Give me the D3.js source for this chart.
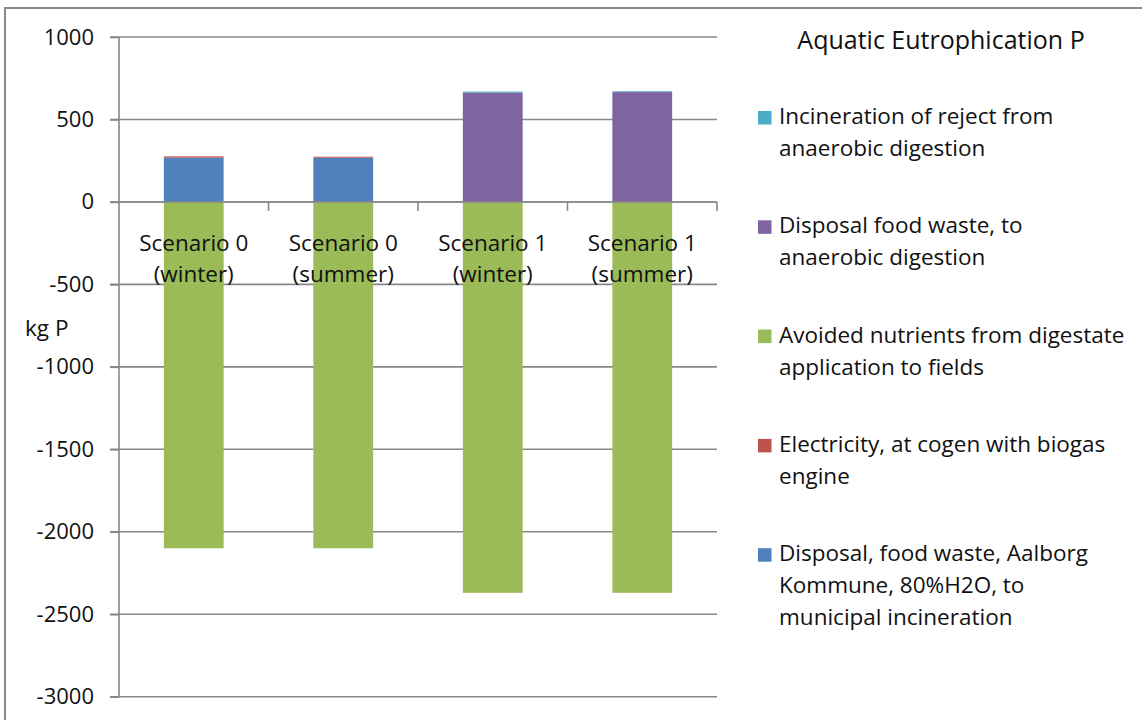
<!DOCTYPE html>
<html>
<head>
<meta charset="utf-8">
<script src="https://cdn.jsdelivr.net/npm/d3@7"></script>
<style>
  html, body { margin: 0; padding: 0; background: #fff; }
  svg { display: block; }
  text { font-family: "Open Sans", "Noto Sans", sans-serif; fill: #111; }
</style>
</head>
<body>
<svg id="chart" width="1142" height="720"></svg>
<script>
// Scenario categories (two text lines each)
const categories = ["Scenario 0 (winter)", "Scenario 0 (summer)", "Scenario 1 (winter)", "Scenario 1 (summer)"];
const categoryLines = [["Scenario 0", "(winter)"], ["Scenario 0", "(summer)"], ["Scenario 1", "(winter)"], ["Scenario 1", "(summer)"]];

// Contributions per process, kg P
const seriesNames = [
  "Disposal, food waste, Aalborg Kommune, 80%H2O, to municipal incineration",
  "Electricity, at cogen with biogas engine",
  "Avoided nutrients from digestate application to fields",
  "Disposal food waste, to anaerobic digestion",
  "Incineration of reject from anaerobic digestion"
];
const incinerationMunicipal = [268, 268, 0, 0];
const electricityCogen     = [8, 6, 0, 0];
const avoidedNutrients     = [-2100, -2100, -2370, -2370];
const anaerobicDigestion   = [0, 0, 663, 666];
const rejectIncineration   = [0, 0, 6, 5];

const seriesColors = ["#4F81BD", "#C0504D", "#9BBB59", "#8064A2", "#4BACC6"];

// Legend text, top to bottom, already broken into lines
const legendOrder = [4, 3, 2, 1, 0];
const legendLines = [
  ["Incineration of reject from", "anaerobic digestion"],
  ["Disposal food waste, to", "anaerobic digestion"],
  ["Avoided nutrients from digestate", "application to fields"],
  ["Electricity, at cogen with biogas", "engine"],
  ["Disposal, food waste, Aalborg", "Kommune, 80%H2O, to", "municipal incineration"]
];

const yTicks = [1000, 500, 0, -500, -1000, -1500, -2000, -2500, -3000];

const chartTitle = "Aquatic Eutrophication P";
const yTitle = "kg P";

// ---- layout ----
const svg = d3.select("#chart");
const plot = { left: 119, right: 717, top: 37, bottom: 696.7 };
const axisColor = "#888888";
const fontSize = 22.5;

// Outer frame (runs past the right and bottom edges)
svg.append("rect")
  .attr("x", 5).attr("y", 8)
  .attr("width", 1160).attr("height", 740)
  .attr("fill", "none")
  .attr("stroke", "#8a8a8a")
  .attr("stroke-width", 2);

const x = d3.scaleBand()
  .domain(categories)
  .range([plot.left, plot.right])
  .paddingInner(0.6)
  .paddingOuter(0.3);

const y = d3.scaleLinear()
  .domain([-3000, 1000])
  .range([plot.bottom, plot.top]);

// Gridlines
svg.append("g")
  .selectAll("line")
  .data(yTicks)
  .join("line")
  .attr("x1", plot.left - 9)
  .attr("x2", plot.right)
  .attr("y1", d => y(d))
  .attr("y2", d => y(d))
  .attr("stroke", axisColor)
  .attr("stroke-width", 1.6);

// Stacked bars
const rows = categories.map((c, i) => ({
  cat: c,
  s0: incinerationMunicipal[i],
  s1: electricityCogen[i],
  s2: avoidedNutrients[i],
  s3: anaerobicDigestion[i],
  s4: rejectIncineration[i]
}));
const keys = ["s0", "s1", "s2", "s3", "s4"];
const stacked = d3.stack()
  .keys(keys)
  .offset(d3.stackOffsetDiverging)(rows);

svg.append("g")
  .selectAll("g")
  .data(stacked)
  .join("g")
  .attr("fill", (d, i) => seriesColors[i])
  .selectAll("rect")
  .data(d => d)
  .join("rect")
  .attr("x", d => x(d.data.cat))
  .attr("width", x.bandwidth())
  .attr("y", d => y(Math.max(d[0], d[1])))
  .attr("height", d => Math.abs(y(d[0]) - y(d[1])));

// Value axis
const yAxis = svg.append("g")
  .attr("transform", `translate(${plot.left},0)`)
  .call(d3.axisLeft(y).tickValues(yTicks).tickSize(9).tickPadding(16).tickFormat(d => String(d)));
yAxis.select(".domain").attr("stroke", axisColor).attr("stroke-width", 1.6)
  .attr("d", `M0,${plot.top}V${plot.bottom}`);
yAxis.selectAll(".tick line").attr("stroke", axisColor).attr("stroke-width", 1.6);
yAxis.selectAll(".tick text")
  .attr("font-size", 22)
  .attr("font-family", "'Open Sans', sans-serif")
  .attr("fill", "#111");

// Category axis on the zero line, ticks at category boundaries
const boundaries = categories.map((c, i) => i === 0 ? plot.left : x(c) - x.step() * x.paddingInner() / 2);
boundaries.push(plot.right);
svg.append("line")
  .attr("x1", plot.left - 9).attr("x2", plot.right)
  .attr("y1", y(0)).attr("y2", y(0))
  .attr("stroke", axisColor).attr("stroke-width", 1.6);
svg.append("g")
  .selectAll("line")
  .data(boundaries.slice(1))
  .join("line")
  .attr("x1", d => d).attr("x2", d => d)
  .attr("y1", y(0)).attr("y2", y(0) + 9)
  .attr("stroke", axisColor).attr("stroke-width", 1.6);

// Category labels
const catLabels = svg.append("g")
  .selectAll("text")
  .data(categories)
  .join("text")
  .attr("text-anchor", "middle")
  .attr("font-size", fontSize);
catLabels.each(function(c, i) {
  const t = d3.select(this);
  categoryLines[i].forEach((line, j) => {
    t.append("tspan")
      .attr("x", x(c) + x.bandwidth() / 2)
      .attr("y", y(0) + 49 + j * 31.5)
      .text(line);
  });
});

// Axis title
svg.append("text")
  .attr("x", 25)
  .attr("y", 336)
  .attr("font-size", fontSize)
  .text(yTitle);

// Chart title
svg.append("text")
  .attr("x", 941)
  .attr("y", 49)
  .attr("text-anchor", "middle")
  .attr("font-size", 25)
  .text(chartTitle);

// Legend
const legend = svg.append("g");
legendOrder.forEach((si, k) => {
  const base = 124 + k * 109.3;
  legend.append("rect")
    .attr("x", 758).attr("y", base - 13)
    .attr("width", 13.5).attr("height", 13.5)
    .attr("fill", seriesColors[si]);
  const t = legend.append("text").attr("font-size", fontSize);
  legendLines[k].forEach((line, j) => {
    t.append("tspan")
      .attr("x", 779)
      .attr("y", base + j * 32)
      .text(line);
  });
});
</script>
</body>
</html>
